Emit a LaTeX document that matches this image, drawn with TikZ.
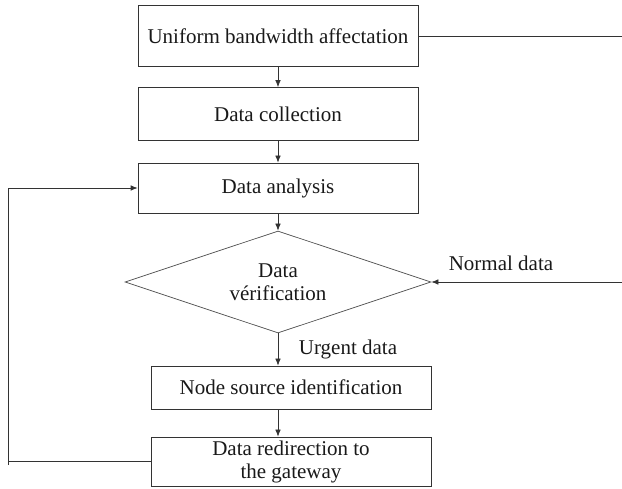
\documentclass[tikz,border=0pt]{standalone}
\usepackage{fontspec}
\setmainfont{Liberation Serif}
\usetikzlibrary{arrows.meta,shapes.geometric}
\begin{document}
\begin{tikzpicture}[x=1pt,y=-1pt,
  every node/.style={font=\fontsize{21}{23}\selectfont, text=black!90},
  procbox/.style={draw=black!80, line width=0.7pt, rectangle, minimum width=280pt, inner sep=0pt, align=center},
  decision/.style={draw=black!70, line width=0.7pt, diamond, aspect=3, minimum width=306pt, minimum height=102pt, inner sep=0pt, align=center},
  flow/.style={draw=black!80, line width=0.7pt},
  flowarrow/.style={flow, -{Latex[length=7pt,width=5.5pt]}},
  tag/.style={inner sep=0pt}]
\useasboundingbox (0,0) rectangle (622,489);

% process steps
\node[procbox, minimum height=61pt] (b1) at (278,36) {Uniform bandwidth affectation};
\node[procbox, minimum height=53pt] (b2) at (278,114) {Data collection};
\node[procbox, minimum height=50pt] (b3) at (278,188) {Data analysis};
\node[decision] (d) at (278,282) {Data\\vérification};
\node[procbox, minimum height=43pt] (b4) at (291,387.5) {Node source identification};
\node[procbox, minimum height=49pt] (b5) at (291,461.5) {Data redirection to\\the gateway};

% free ends of the side connectors
\coordinate (topend) at (622,36);
\coordinate (normin) at (622,282);
\coordinate (fbbot) at (8,465);

% main flow
\draw[flowarrow] (b1.south) -- (b2.north);
\draw[flowarrow] (b2.south) -- (b3.north);
\draw[flowarrow] (b3.south) -- (d.north);
\draw[flowarrow] (d.south) -- (d.south |- b4.north);
\draw[flowarrow] (d.south |- b4.south) -- (d.south |- b5.north);

% side connectors
\draw[flow] (b1.east) -- (topend);
\draw[flowarrow] (normin) -- (d.east);
\draw[flow] (b5.west) -- (fbbot |- b5.west);
\draw[flowarrow] (fbbot) |- (b3.west);

% branch labels
\node[tag] (lnormal) at (501,263) {Normal data};
\node[tag] (lurgent) at (348,349) {Urgent data};
\end{tikzpicture}
\end{document}
